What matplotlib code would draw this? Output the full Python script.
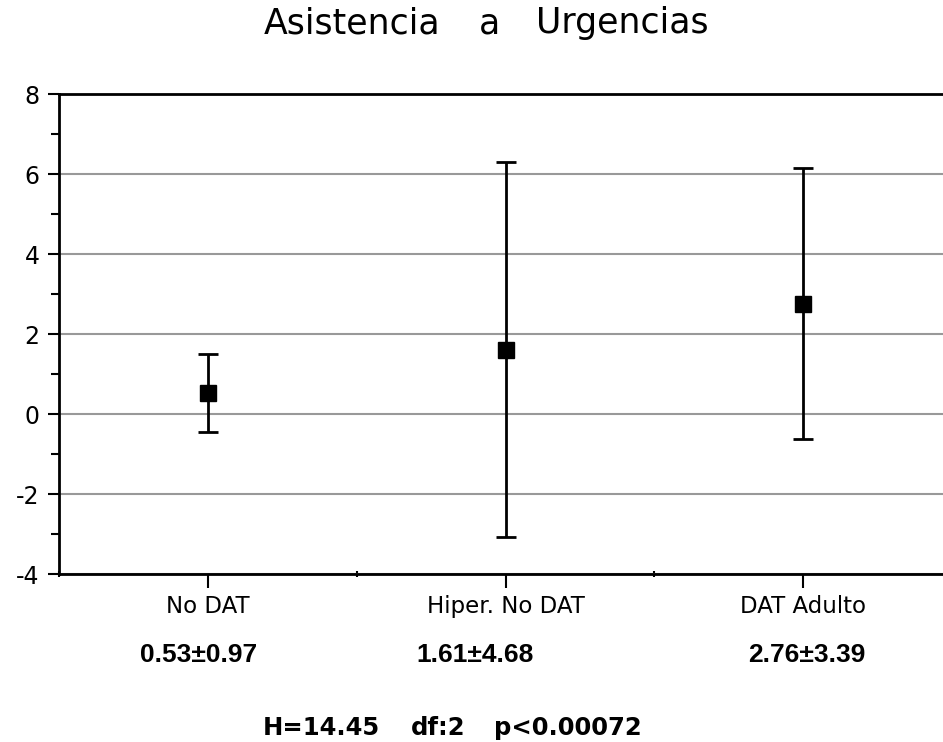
import matplotlib.pyplot as plt
import numpy as np

groups = ["No DAT", "Hiper. No DAT", "DAT Adulto"]
means = [0.53, 1.61, 2.76]
sds = [0.97, 4.68, 3.39]
value_labels = ["0.53±0.97", "1.61±4.68", "2.76±3.39"]
value_x = [199, 475, 807]  # label centres, pixels
stats_parts = ["H=14.45", "df:2", "p<0.00072"]
stats_x = [321, 438, 568]
title_parts = ["Asistencia", "a", "Urgencias"]
title_x = [352, 489, 622]

plt.rcParams["axes.unicode_minus"] = False

fig = plt.figure(figsize=(9.43, 7.42), dpi=100)
ax = fig.add_axes([59 / 943, 1 - 574 / 742, (952 - 59) / 943, (574 - 94) / 742])

x = np.arange(len(groups)) + 0.5
ax.errorbar(x, means, yerr=sds, fmt="s", color="black", markersize=12,
            elinewidth=2, capsize=7, capthick=2, zorder=3)

ax.set_xlim(0, 3)
ax.set_ylim(-4, 8)
ax.set_yticks(np.arange(-4, 9, 2))
ax.set_yticks(np.arange(-3, 8, 2), minor=True)
ax.grid(axis="y", color="#999999", linewidth=1.5, zorder=0)

# boundary ticks (short) and category ticks (long)
ax.set_xticks([0, 1, 2, 3])
ax.set_xticklabels([])
ax.set_xticks(x, minor=True)
ax.set_xticklabels(groups, minor=True, fontsize=16.5, family="DejaVu Sans")
ax.tick_params(axis="x", which="major", length=5, width=1.5, direction="inout")
ax.tick_params(axis="x", which="minor", length=10, width=1.5, direction="out", pad=5)
ax.tick_params(axis="y", which="major", length=8, width=1.5, labelsize=17, pad=6)
ax.tick_params(axis="y", which="minor", length=6, width=1.5)

for side in ["left", "bottom", "top"]:
    ax.spines[side].set_linewidth(2)
ax.spines["right"].set_visible(False)

for px, lab in zip(value_x, value_labels):
    fig.text(px / 943, 1 - 662 / 742, lab, ha="center", va="baseline", fontsize=19,
             fontweight="bold", family="Liberation Sans")

for px, part in zip(stats_x, stats_parts):
    fig.text(px / 943, 1 - 735 / 742, part, ha="center", va="baseline",
             fontsize=17.5, fontweight="bold", family="DejaVu Sans")

for px, part in zip(title_x, title_parts):
    fig.text(px / 943, 1 - 33 / 742, part, ha="center", va="baseline", fontsize=25,
             family="DejaVu Sans")

fig.savefig("out.png", dpi=100)
